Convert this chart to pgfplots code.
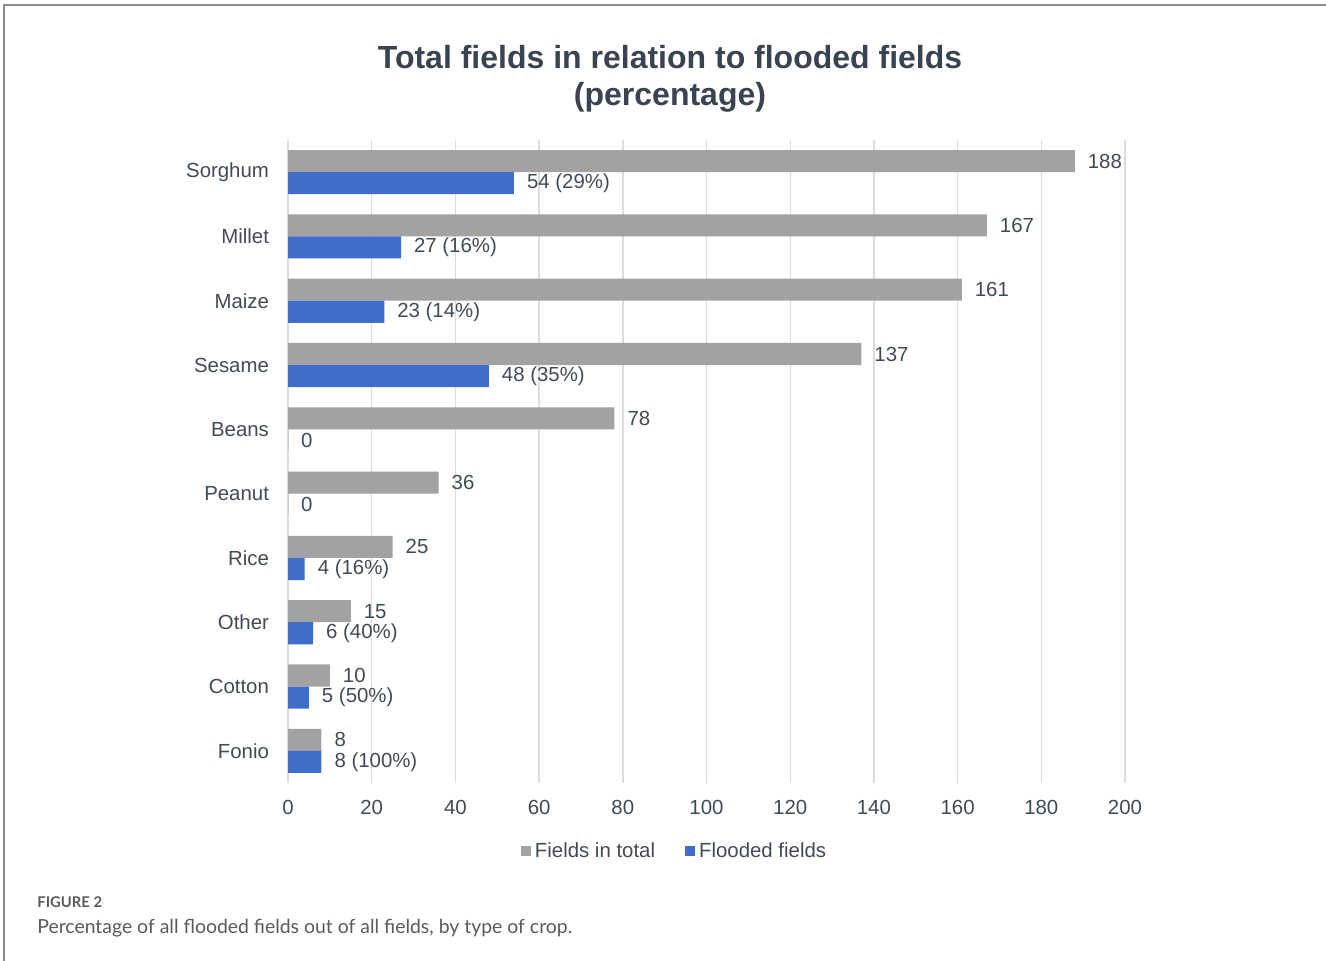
\documentclass[border=0pt]{standalone}
\usepackage{pgfplots}
\pgfplotsset{compat=1.18}
\usepackage{fontspec}
\setmainfont{Liberation Sans}
\newfontfamily\capfont{Lato}
\definecolor{txt}{HTML}{404A58}
\definecolor{titlec}{HTML}{3A4352}
\definecolor{gridc}{HTML}{DCDCDC}
\definecolor{greyF}{HTML}{A2A2A2}
\definecolor{blueF}{HTML}{3F6DC9}
\definecolor{framec}{HTML}{8A8A8A}
\definecolor{capc}{HTML}{5A5A5A}
\begin{document}
\begin{tikzpicture}
\path[use as bounding box] (0,0) rectangle (663pt,480.5pt);
\draw[framec, line width=1pt] (2pt,0) -- (2pt,478pt) -- (663pt,478pt);
\node[font=\fontsize{16}{18.5}\selectfont\bfseries, text=titlec, align=center] at (335pt,441.25pt) {Total fields in relation to flooded fields\\(percentage)};
\begin{axis}[
  at={(144pt,89pt)}, anchor=south west,
  scale only axis, width=418.5pt, height=321.5pt,
  xmin=0, xmax=200, ymin=-0.5, ymax=9.5,
  y dir=reverse,
  xtick={0,20,...,200},
  ytick={0,...,9},
  yticklabels={Sorghum,Millet,Maize,Sesame,Beans,Peanut,Rice,Other,Cotton,Fonio},
  axis line style={draw=none},
  major tick length=0pt,
  xmajorgrids, major grid style={gridc, line width=0.7pt},
  tick label style={font=\fontsize{10.2}{12}\selectfont, text=txt},
  /pgf/number format/assume math mode=true,
  xticklabel style={yshift=-5pt},
  yticklabel style={xshift=-6pt},
  xbar, bar width=0.343,
  point meta=explicit symbolic,
  nodes near coords,
  every node near coord/.append style={anchor=west, font=\fontsize{10.2}{12}\selectfont, text=txt, xshift=3pt},
  legend style={at={(axis description cs:0.463,-0.106)}, anchor=center, draw=none, fill=none,
    font=\fontsize{10.2}{12}\selectfont, text=txt,
    /tikz/every even column/.append style={column sep=13pt}},
  legend columns=2,
  legend image code/.code={\fill[#1] (0pt,-2.5pt) rectangle (5pt,2.5pt);},
]
\addplot[draw=none, fill=greyF, bar shift=-0.1715] coordinates {
  (188,0) [188]
  (167,1) [167]
  (161,2) [161]
  (137,3) [137]
  (78,4) [78]
  (36,5) [36]
  (25,6) [25]
  (15,7) [15]
  (10,8) [10]
  (8,9) [8]
};
\addlegendentry{Fields in total}
\addplot[draw=none, fill=blueF, bar shift=0.1715] coordinates {
  (54,0) [54 (29\%)]
  (27,1) [27 (16\%)]
  (23,2) [23 (14\%)]
  (48,3) [48 (35\%)]
  (0,4) [0]
  (0,5) [0]
  (4,6) [4 (16\%)]
  (6,7) [6 (40\%)]
  (5,8) [5 (50\%)]
  (8,9) [8 (100\%)]
};
\addlegendentry{Flooded fields}
\end{axis}
\node[inner sep=0pt, anchor=base west, font=\capfont\fontsize{7.4}{9}\selectfont\bfseries, text=capc] at (18.5pt,26.5pt) {FIGURE 2};
\node[inner sep=0pt, anchor=base west, font=\capfont\fontsize{9.7}{11}\selectfont, text=capc] at (18.5pt,13.5pt) {Percentage of all flooded fields out of all fields, by type of crop.};
\end{tikzpicture}
\end{document}
